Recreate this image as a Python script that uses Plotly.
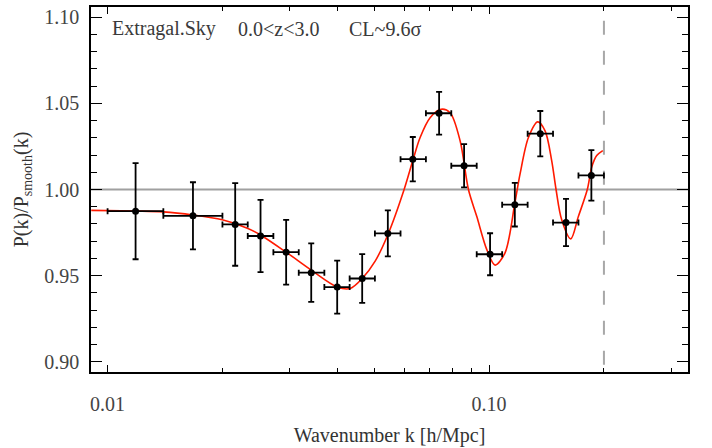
import plotly.graph_objects as go

# Band-power ratio P(k)/P_smooth(k) per k-bin
k_center = [0.01184, 0.01674, 0.0216, 0.02517, 0.02938, 0.03418, 0.03998, 0.04649,
            0.05427, 0.0631, 0.07396, 0.0860, 0.1006, 0.1168, 0.1362, 0.1591, 0.1854]
k_low = [0.0100, 0.0140, 0.0200, 0.0233, 0.0272, 0.0317, 0.0370, 0.0431,
         0.0502, 0.0586, 0.0683, 0.0796, 0.0928, 0.1082, 0.1262, 0.1471, 0.1715]
k_high = [0.0140, 0.0200, 0.0233, 0.0272, 0.0317, 0.0370, 0.0431, 0.0502,
          0.0586, 0.0683, 0.0796, 0.0928, 0.1082, 0.1262, 0.1471, 0.1715, 0.2000]
ratio = [0.9874, 0.9847, 0.9797, 0.9730, 0.9636, 0.9517, 0.9433, 0.9483,
         0.9745, 1.0176, 1.0443, 1.0138, 0.9624, 0.9912, 1.0324, 0.9808, 1.0082]
ratio_err = [0.0279, 0.0195, 0.0240, 0.0210, 0.0188, 0.0170, 0.0154, 0.0142,
             0.0134, 0.0129, 0.0124, 0.0126, 0.0122, 0.0127, 0.0132, 0.0137, 0.0147]

# Best-fit wiggle model sampled along k
model_k = [0.00906, 0.01184, 0.01399, 0.01674, 0.01998, 0.02333, 0.02517, 0.02938,
           0.03418, 0.03998, 0.04324, 0.04649, 0.05028, 0.05427, 0.05988, 0.06310,
           0.06595, 0.07004, 0.07484, 0.07903, 0.08395, 0.08828, 0.09285, 0.09863,
           0.1037, 0.1101, 0.1168, 0.1206, 0.1268, 0.1341, 0.1402, 0.1459,
           0.1498, 0.1550, 0.1637, 0.1714, 0.1809, 0.1858, 0.1915, 0.1986]
model_ratio = [0.9879, 0.9875, 0.9870, 0.9852, 0.9824, 0.9774, 0.9736, 0.9636,
               0.9532, 0.9434, 0.9425, 0.9483, 0.9584, 0.9737, 1.0000, 1.0168,
               1.0302, 1.0417, 1.0466, 1.0446, 1.0283, 1.0000, 0.9843, 0.9651,
               0.9561, 0.9632, 0.9920, 1.0092, 1.0302, 1.0393, 1.0341, 1.0168,
               1.0000, 0.9824, 0.9713, 0.9843, 1.0000, 1.0130, 1.0197, 1.0226]

k_max = 0.2
y_range = [0.894, 1.106]

serif = "Liberation Serif"

fig = go.Figure()

fig.add_trace(go.Scatter(
    x=model_k, y=model_ratio, mode="lines",
    line=dict(color="#ff1a00", width=1.6, shape="spline", smoothing=0.9),
    hoverinfo="skip", showlegend=False,
))

fig.add_trace(go.Scatter(
    x=k_center, y=ratio, mode="markers",
    marker=dict(color="black", size=7),
    error_y=dict(type="data", array=ratio_err, color="black", thickness=1.8, width=3),
    error_x=dict(type="data",
                 array=[h - c for h, c in zip(k_high, k_center)],
                 arrayminus=[c - l for c, l in zip(k_center, k_low)],
                 color="black", thickness=1.8, width=3),
    showlegend=False,
))

# reference level and k_max cut
fig.add_shape(type="line", xref="paper", x0=0, x1=1, yref="y", y0=1.0, y1=1.0,
              line=dict(color="#a0a0a0", width=2), layer="below")
fig.add_shape(type="line", xref="x", x0=k_max, x1=k_max, yref="y", y0=1.098, y1=y_range[0],
              line=dict(color="#a8a8a8", width=2, dash="14px,16px"), layer="below")

labels = [("Extragal.Sky", 0.0318), ("0.0&lt;z&lt;3.0", 0.2429), ("CL~9.6\u03c3", 0.4288)]
for txt, xp in labels:
    fig.add_annotation(text=txt, xref="paper", yref="paper", x=xp, y=0.94,
                       xanchor="left", yanchor="middle", showarrow=False,
                       font=dict(family=serif, size=20, color="#3a3a3a"))

fig.update_layout(
    width=712, height=448,
    margin=dict(l=91, r=24, t=5, b=74),
    paper_bgcolor="white", plot_bgcolor="white",
    font=dict(family=serif, color="#444444"),
)

fig.update_xaxes(
    type="log", range=[-2.0435, -0.4786], dtick=1, tickformat=".2f",
    showgrid=False, zeroline=False,
    showline=True, linecolor="black", linewidth=1.6, mirror="ticks",
    ticks="inside", ticklen=7, tickwidth=1.4, tickcolor="black",
    minor=dict(ticks="inside", ticklen=4, tickwidth=1.2, tickcolor="black", dtick="D1", showgrid=False),
    tickfont=dict(family=serif, size=20, color="#444444"),
    ticklabelstandoff=13,
    title=dict(text="Wavenumber k [h/Mpc]", font=dict(family=serif, size=20, color="#333333"), standoff=14),
)

fig.update_yaxes(
    range=y_range, dtick=0.05, tick0=0.9, tickformat=".2f",
    showgrid=False, zeroline=False,
    showline=True, linecolor="black", linewidth=1.6, mirror="ticks",
    ticks="inside", ticklen=11, tickwidth=1.4, tickcolor="black",
    minor=dict(ticks="inside", ticklen=6, tickwidth=1.2, tickcolor="black", dtick=0.01, showgrid=False),
    tickfont=dict(family=serif, size=20, color="#444444"),
    ticklabelstandoff=6,
    title=dict(text="P(k)/P<sub>smooth</sub>(k)", font=dict(family=serif, size=20, color="#333333"), standoff=10),
)

fig.write_html("out.html")
